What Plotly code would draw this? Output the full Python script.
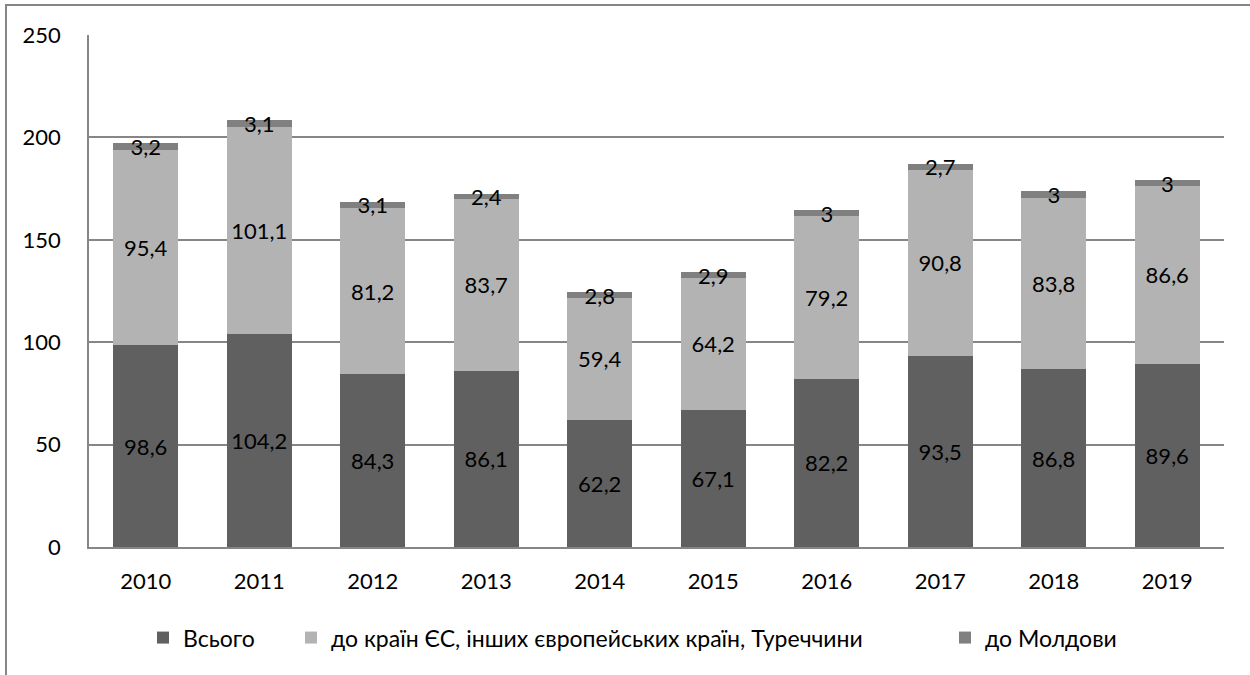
import plotly.graph_objects as go

years = ["2010", "2011", "2012", "2013", "2014", "2015", "2016", "2017", "2018", "2019"]
total = [98.6, 104.2, 84.3, 86.1, 62.2, 67.1, 82.2, 93.5, 86.8, 89.6]
eu = [95.4, 101.1, 81.2, 83.7, 59.4, 64.2, 79.2, 90.8, 83.8, 86.6]
moldova = [3.2, 3.1, 3.1, 2.4, 2.8, 2.9, 3, 2.7, 3, 3]

names = ["Всього", "до країн ЄС, інших європейських країн, Туреччини", "до Молдови"]
colors = ["#606060", "#b3b3b3", "#808080"]

FONT = "Lato, 'Open Sans', sans-serif"

# plot area in pixels: x 89..1224, y 35..547
L, R, T, B = 89, 26, 35, 128
PW = 1250 - L - R


def fmt(v):
    return f"{v:g}".replace(".", ",")


def px_x(px):
    return (px - L) / PW


fig = go.Figure()
legend_ids = ["legend", "legend2", "legend3"]
for name, vals, color, lg in zip(names, [total, eu, moldova], colors, legend_ids):
    fig.add_trace(
        go.Bar(
            x=years,
            y=vals,
            name=name,
            legend=lg,
            marker=dict(color=color, line=dict(width=0)),
            text=[fmt(v) for v in vals],
            textposition="inside",
            insidetextanchor="middle",
            constraintext="none",
            textangle=0,
            textfont=dict(family=FONT, size=22, color="#000000"),
        )
    )

# outer chart frame (only top and left edges are visible in the picture)
fig.add_shape(
    type="rect", xref="paper", yref="paper",
    x0=px_x(6), x1=1.5, y0=-0.6, y1=1 + (T - 5) / 512,
    line=dict(color="#868686", width=2), fillcolor="rgba(0,0,0,0)", layer="below",
)

legend_common = dict(
    orientation="h",
    xanchor="left",
    y=-0.135, yanchor="top",
    font=dict(family=FONT, size=23),
    itemwidth=30,
    bgcolor="rgba(0,0,0,0)",
)

fig.update_layout(
    barmode="stack",
    bargap=0.43,
    width=1250,
    height=675,
    margin=dict(l=L, r=R, t=T, b=B),
    plot_bgcolor="white",
    paper_bgcolor="white",
    font=dict(family=FONT, size=22, color="#000000"),
    showlegend=True,
    legend=dict(x=px_x(143), **legend_common),
    legend2=dict(x=px_x(291), **legend_common),
    legend3=dict(x=px_x(945), **legend_common),
)

fig.update_yaxes(
    range=[0, 250],
    dtick=50,
    showgrid=True,
    gridcolor="#868686",
    gridwidth=1.5,
    showline=True,
    linecolor="#868686",
    linewidth=1.5,
    zeroline=False,
    ticks="",
    ticklabelstandoff=22,
    tickfont=dict(family=FONT, size=22),
)
fig.update_xaxes(
    showline=True,
    linecolor="#868686",
    linewidth=1.5,
    ticks="",
    ticklabelstandoff=14,
    tickfont=dict(family=FONT, size=22),
)

fig.write_html(
    "out.html",
    config={"displayModeBar": False},
    post_script="document.body.style.margin='0';",
)
